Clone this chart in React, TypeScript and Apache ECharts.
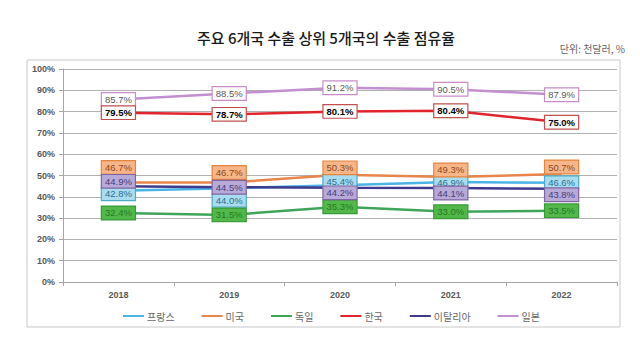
import React, { useEffect, useRef } from "react";
import * as echarts from "echarts";

const years = ["2018", "2019", "2020", "2021", "2022"];
const france = [42.8, 44.0, 45.4, 46.9, 46.6];
const usa = [46.7, 46.7, 50.3, 49.3, 50.7];
const germany = [32.4, 31.5, 35.3, 33.0, 33.5];
const korea = [79.5, 78.7, 80.1, 80.4, 75.0];
const italy = [44.9, 44.5, 44.2, 44.1, 43.8];
const japan = [85.7, 88.5, 91.2, 90.5, 87.9];
const seriesNames = ["프랑스", "미국", "독일", "한국", "이탈리아", "일본"];
const yTicks = [0, 10, 20, 30, 40, 50, 60, 70, 80, 90, 100];

const FONT = "'Liberation Sans', 'Noto Sans CJK KR', sans-serif";
const KFONT = "'Noto Sans CJK KR', 'Noto Sans', sans-serif";

export default function App() {
  const ref = useRef<HTMLDivElement>(null);
  useEffect(() => {
    if (!ref.current) return;
    const chart = echarts.init(ref.current, null, { renderer: "svg" });

    const styles = [
      { data: france, line: "#4bb4e6", bg: "#a9dcee", border: "#4bacc6", text: "#2a7090", bold: false, shift: [3, 12, -4, 0, 0] },
      { data: usa, line: "#e8864a", bg: "#f7b58a", border: "#e4853e", text: "#8a4a1a", bold: false, shift: [-15, -10, -7, -7, -7] },
      { data: germany, line: "#3fa55a", bg: "#52b84a", border: "#3a9a3a", text: "#237a23", bold: false, shift: [0, 0, 0, 0, 0] },
      { data: korea, line: "#e0252e", bg: "#ffffff", border: "#c0504d", text: "#000000", bold: true, shift: [0, 0, 0, 0, 0] },
      { data: italy, line: "#3f3a8e", bg: "#b7a9d8", border: "#8064a2", text: "#4a3d78", bold: false, shift: [-5, 0, 5, 5, 6] },
      { data: japan, line: "#c28fd0", bg: "#ffffff", border: "#c88cc8", text: "#595959", bold: false, shift: [0, 0, 0, 0, 0] },
    ];

    const series = styles.map((s, i) => ({
      name: seriesNames[i],
      type: "line",
      z: i === 3 ? 5 : 2,
      symbol: "circle",
      symbolSize: 1,
      showSymbol: true,
      lineStyle: { color: s.line, width: 2.5 },
      itemStyle: { color: s.line },
      data: s.data.map((v, j) => ({
        value: v,
        label: { offset: [0, s.shift[j]] },
      })),
      label: {
        show: true,
        position: "inside",
        formatter: (p: any) => p.value.toFixed(1) + "%",
        fontFamily: FONT,
        fontSize: 9.5,
        fontWeight: s.bold ? "bold" : "normal",
        color: s.text,
        backgroundColor: s.bg,
        borderColor: s.border,
        borderWidth: 1.2,
        padding: [2, 3, 1, 3],
      },
    }));

    chart.setOption({
      animation: false,
      backgroundColor: "#ffffff",
      graphic: [
        {
          type: "rect",
          shape: { x: 27, y: 60, width: 593, height: 267 },
          style: { fill: "none", stroke: "#c8c8c8", lineWidth: 1 },
          silent: true,
        },
        {
          type: "text",
          x: 326,
          y: 37,
          style: {
            text: "주요 6개국 수출 상위 5개국의 수출 점유율",
            fontFamily: KFONT,
            fontSize: 15,
            fontWeight: 500,
            fill: "#1a1a1a",
            align: "center",
            verticalAlign: "middle",
          },
        },
        {
          type: "text",
          x: 625,
          y: 48,
          style: {
            text: "단위: 천달러, %",
            fontFamily: KFONT,
            fontSize: 10,
            fill: "#666666",
            align: "right",
            verticalAlign: "middle",
          },
        },
      ],
      grid: { left: 63, right: 23, top: 69, bottom: 59, containLabel: false },
      legend: {
        left: 118,
        top: 306,
        itemWidth: 21,
        itemHeight: 10,
        itemGap: 27,
        icon: "path://M0,4 L21,4 L21,6 L0,6 Z",
        textStyle: { fontFamily: KFONT, fontSize: 10, color: "#666666", padding: [0, 0, 0, -2] },
        data: seriesNames,
      },
      xAxis: {
        type: "category",
        data: years,
        boundaryGap: true,
        axisLine: { show: true, lineStyle: { color: "#a6a6a6" } },
        axisTick: { show: true, length: 4, lineStyle: { color: "#a6a6a6" } },
        axisLabel: { fontFamily: FONT, fontSize: 9, fontWeight: "bold", color: "#595959", margin: 8 },
      },
      yAxis: {
        type: "value",
        min: yTicks[0],
        max: yTicks[yTicks.length - 1],
        interval: 10,
        axisLine: { show: true, lineStyle: { color: "#a6a6a6" } },
        axisTick: { show: true, length: 4, lineStyle: { color: "#a6a6a6" } },
        splitLine: { show: true, lineStyle: { color: "#b0b0b0", width: 1 } },
        axisLabel: { fontFamily: FONT, fontSize: 9, fontWeight: "bold", color: "#595959", margin: 8, formatter: "{value}%" },
      },
      series,
    });
    return () => chart.dispose();
  }, []);
  return (
    <div style={{ margin: -8 }}>
      <div ref={ref} style={{ width: 640, height: 341 }} />
    </div>
  );
}
